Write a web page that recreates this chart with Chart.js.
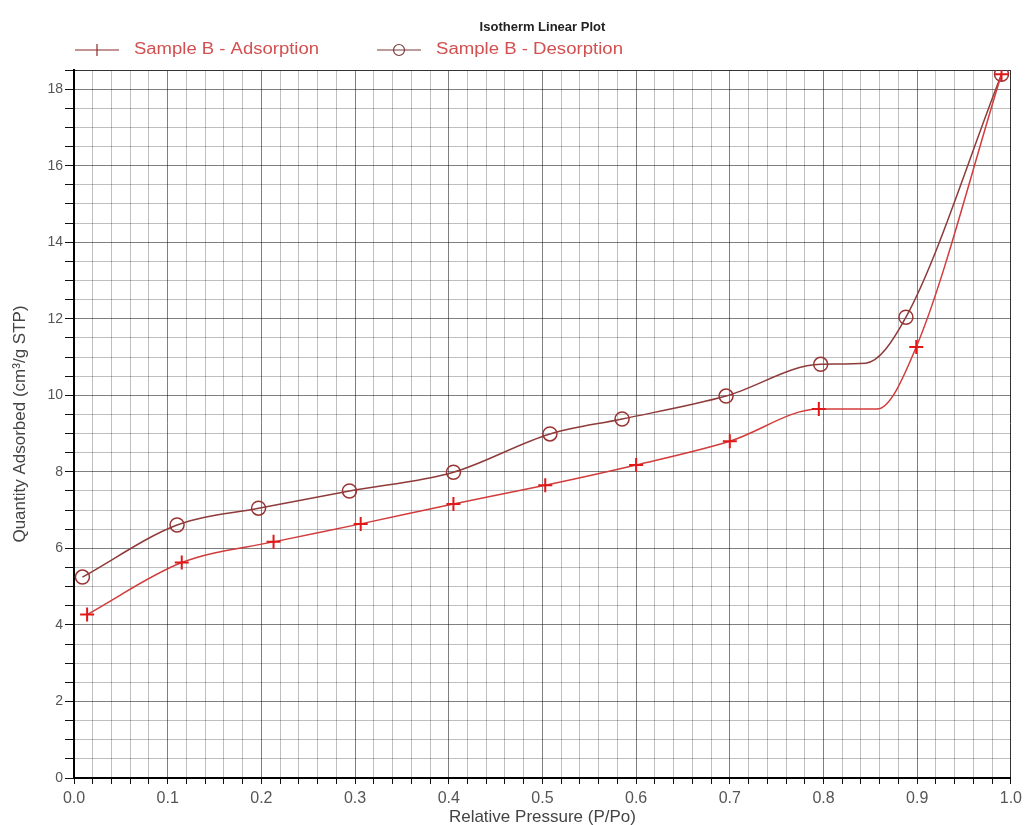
<!DOCTYPE html>
<html>
<head>
<meta charset="utf-8">
<script src="https://cdn.jsdelivr.net/npm/chart.js@4/dist/chart.umd.min.js"></script>
<style>
  html, body { margin: 0; padding: 0; background: #fff; }
  #wrap { width: 1027px; height: 825px; }
</style>
</head>
<body>
<div id="wrap"><canvas id="isoChart" width="1027" height="825"></canvas></div>
<script>
// Relative pressure (P/Po) and quantity adsorbed (cm3/g STP)
const adsP = [0.014, 0.115, 0.213, 0.306, 0.405, 0.503, 0.600, 0.700, 0.795, 0.899, 0.990];
const adsQ = [4.27, 5.63, 6.17, 6.64, 7.16, 7.65, 8.18, 8.80, 9.64, 11.26, 18.39];
const desP = [0.990, 0.888, 0.797, 0.696, 0.585, 0.508, 0.405, 0.294, 0.197, 0.110, 0.009];
const desQ = [18.39, 12.04, 10.81, 9.98, 9.38, 8.99, 7.99, 7.50, 7.05, 6.61, 5.25];

// points where the drawn curves flatten out (no marker there)
const adsBendP = [0.857];
const adsBendQ = [9.64];
const desBendP = [0.845];
const desBendQ = [10.84];

const seriesNames = ["Sample B - Adsorption", "Sample B - Desorption"];

const adsLine = "#d23c3c";
const adsMark = "#e01818";
const desLine = "#8e3b3b";
const desMark = "#9a3434";
const fontFam = "'Liberation Sans', Arial, sans-serif";

function buildPoints(p, q, bp, bq) {
    const pts = p.map((x, i) => ({ x: x, y: q[i], m: true }))
        .concat(bp.map((x, i) => ({ x: x, y: bq[i], m: false })));
    pts.sort((a, b) => a.x - b.x);
    return pts;
}

const isMajorX = (v) => Math.abs(v * 10 - Math.round(v * 10)) < 1e-6;
const isMajorY = (v) => Math.abs(v / 2 - Math.round(v / 2)) < 1e-6;

const headerPlugin = {
    id: "header",
    afterDraw(chart) {
        const c = chart.ctx;
        const area = chart.chartArea;
        c.save();
        c.fillStyle = "#222";
        c.font = "bold 13px " + fontFam;
        c.textAlign = "center";
        c.textBaseline = "middle";
        c.fillText("Isotherm Linear Plot", (area.left + area.right) / 2, 27);

        const y = 50;
        const items = [
            { x0: 75, x1: 119, tx: 134, w: 185, text: seriesNames[0], line: "#8a2a2a", mark: "#8a2a2a", style: "cross" },
            { x0: 377, x1: 421, tx: 436, w: 187, text: seriesNames[1], line: "#7a3a3a", mark: "#7a3a3a", style: "circle" },
        ];
        items.forEach((it) => {
            c.strokeStyle = it.line;
            c.lineWidth = 1.2;
            c.beginPath();
            c.moveTo(it.x0, y);
            c.lineTo(it.x1, y);
            c.stroke();
            const cx = (it.x0 + it.x1) / 2;
            c.strokeStyle = it.mark;
            c.beginPath();
            if (it.style === "cross") {
                c.moveTo(cx, y - 6);
                c.lineTo(cx, y + 6);
            } else {
                c.arc(cx, y, 5.5, 0, Math.PI * 2);
            }
            c.stroke();
            c.fillStyle = "#d25050";
            c.font = "16px " + fontFam;
            c.textAlign = "left";
            const mw = c.measureText(it.text).width;
            c.save();
            c.translate(it.tx, y);
            c.scale(it.w / mw, 1);
            c.fillText(it.text, 0, 0);
            c.restore();
        });
        c.restore();
    },
};

document.addEventListener("DOMContentLoaded", () => {
    new Chart(document.getElementById("isoChart"), {
        type: "line",
        data: {
            datasets: [
                {
                    label: seriesNames[0],
                    data: buildPoints(adsP, adsQ, adsBendP, adsBendQ),
                    borderColor: adsLine,
                    borderWidth: 1.5,
                    pointStyle: "cross",
                    pointRadius: (ctx) => (ctx.raw && ctx.raw.m ? 7 : 0),
                    pointBorderColor: adsMark,
                    pointBorderWidth: 2,
                    pointBackgroundColor: adsMark,
                    cubicInterpolationMode: "monotone",
                    fill: false,
                },
                {
                    label: seriesNames[1],
                    data: buildPoints(desP, desQ, desBendP, desBendQ),
                    borderColor: desLine,
                    borderWidth: 1.5,
                    pointStyle: "circle",
                    pointRadius: (ctx) => (ctx.raw && ctx.raw.m ? 7 : 0),
                    pointBorderColor: desMark,
                    pointBorderWidth: 1.5,
                    pointBackgroundColor: "rgba(0,0,0,0)",
                    cubicInterpolationMode: "monotone",
                    fill: false,
                },
            ],
        },
        options: {
            responsive: false,
            animation: false,
            layout: { padding: { left: 0, right: 15, top: 70, bottom: 0 } },
            plugins: {
                legend: { display: false },
                title: { display: false },
                tooltip: { enabled: false },
            },
            scales: {
                x: {
                    type: "linear",
                    min: 0,
                    max: 1,
                    afterFit: (scale) => { scale.height = 47; },
                    ticks: {
                        stepSize: 0.02,
                        autoSkip: false,
                        maxRotation: 0,
                        padding: 5,
                        color: "#555",
                        font: { size: 16, family: fontFam },
                        callback: (v) => (isMajorX(v) ? v.toFixed(1) : ""),
                    },
                    grid: {
                        color: (ctx) => {
                            const v = ctx.tick ? ctx.tick.value : 0;
                            if (v >= 0.999) return "#333";
                            return isMajorX(v) ? "rgba(0,0,0,0.5)" : "rgba(0,0,0,0.25)";
                        },
                        tickColor: "#111",
                        tickLength: 6,
                    },
                    border: { color: "#000", width: 2 },
                    title: {
                        display: true,
                        text: "Relative Pressure (P/Po)",
                        color: "#444",
                        padding: { top: 0, bottom: -3 },
                        font: { size: 17, family: fontFam },
                    },
                },
                y: {
                    min: 0,
                    max: 18.5,
                    afterFit: (scale) => { scale.width = 74; },
                    ticks: {
                        stepSize: 0.5,
                        autoSkip: false,
                        padding: 2,
                        color: "#555",
                        font: { size: 14, family: fontFam },
                        callback: (v) => (isMajorY(v) ? String(v) : ""),
                    },
                    grid: {
                        color: (ctx) => {
                            const v = ctx.tick ? ctx.tick.value : 0;
                            if (v >= 18.49) return "#333";
                            return isMajorY(v) ? "rgba(0,0,0,0.5)" : "rgba(0,0,0,0.25)";
                        },
                        tickColor: "#111",
                        tickLength: 9,
                    },
                    border: { color: "#000", width: 2 },
                    title: {
                        display: true,
                        text: "Quantity Adsorbed (cm³/g STP)",
                        color: "#444",
                        padding: { top: 10, bottom: 0 },
                        font: { size: 17, family: fontFam },
                    },
                },
            },
        },
        plugins: [headerPlugin],
    });
});
</script>
</body>
</html>
